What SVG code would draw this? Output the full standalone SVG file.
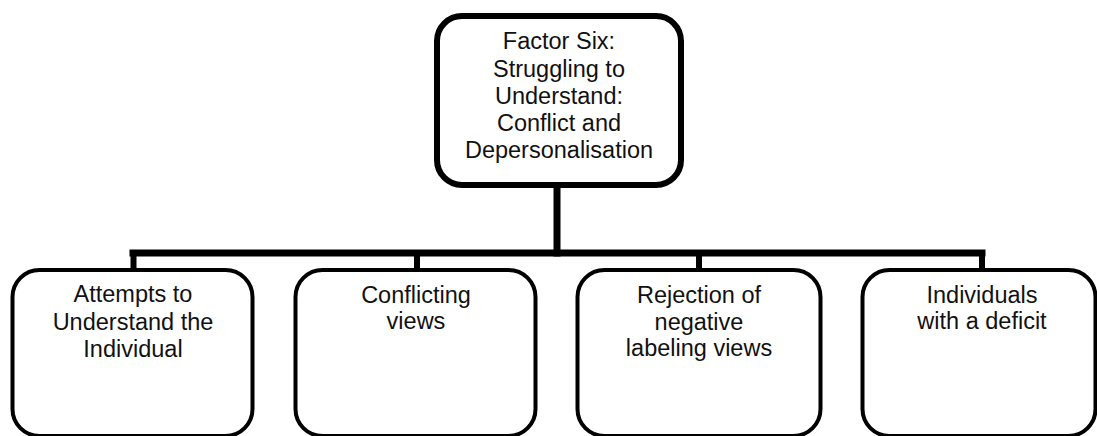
<svg xmlns="http://www.w3.org/2000/svg" width="1097" height="436" viewBox="0 0 1097 436">
<style>
.top{fill:#fff;stroke:#000;stroke-width:6}
.box{fill:#fff;stroke:#000;stroke-width:4}
.conn{fill:none;stroke:#000;stroke-width:7;stroke-linecap:square}
.drop{fill:none;stroke:#000;stroke-width:6}
text{font-family:"Liberation Sans",Arial,sans-serif;font-size:23.5px;fill:#111;text-anchor:middle}
</style>
<rect width="1097" height="436" fill="#fff"/>
<g id="connectors">
<line class="conn" x1="557" y1="186" x2="557" y2="253"/>
<line class="conn" x1="133" y1="253" x2="982" y2="253"/>
<line class="drop" x1="133.5" y1="253" x2="133.5" y2="270"/>
<line class="drop" x1="417" y1="253" x2="417" y2="270"/>
<line class="drop" x1="699" y1="253" x2="699" y2="270"/>
<line class="drop" x1="982" y1="253" x2="982" y2="270"/>
</g>
<g id="top">
<rect class="top" x="437" y="16" width="244" height="169" rx="25"/>
<text x="559" y="49">Factor Six:</text>
<text x="559" y="77">Struggling to</text>
<text x="559" y="104">Understand:</text>
<text x="559" y="131">Conflict and</text>
<text x="559" y="158">Depersonalisation</text>
</g>
<g id="n1">
<rect class="box" x="12.5" y="270" width="240" height="166" rx="27"/>
<text x="133" y="302">Attempts to</text>
<text x="133" y="330">Understand the</text>
<text x="133" y="357">Individual</text>
</g>
<g id="n2">
<rect class="box" x="295.5" y="270" width="240" height="166" rx="27"/>
<text x="416" y="303">Conflicting</text>
<text x="416" y="329">views</text>
</g>
<g id="n3">
<rect class="box" x="577.5" y="270" width="243" height="166" rx="27"/>
<text x="699" y="303">Rejection of</text>
<text x="699" y="330">negative</text>
<text x="699" y="356">labeling views</text>
</g>
<g id="n4">
<rect class="box" x="862.5" y="270" width="233" height="166" rx="27"/>
<text x="982" y="303">Individuals</text>
<text x="982" y="329">with a deficit</text>
</g>
</svg>
